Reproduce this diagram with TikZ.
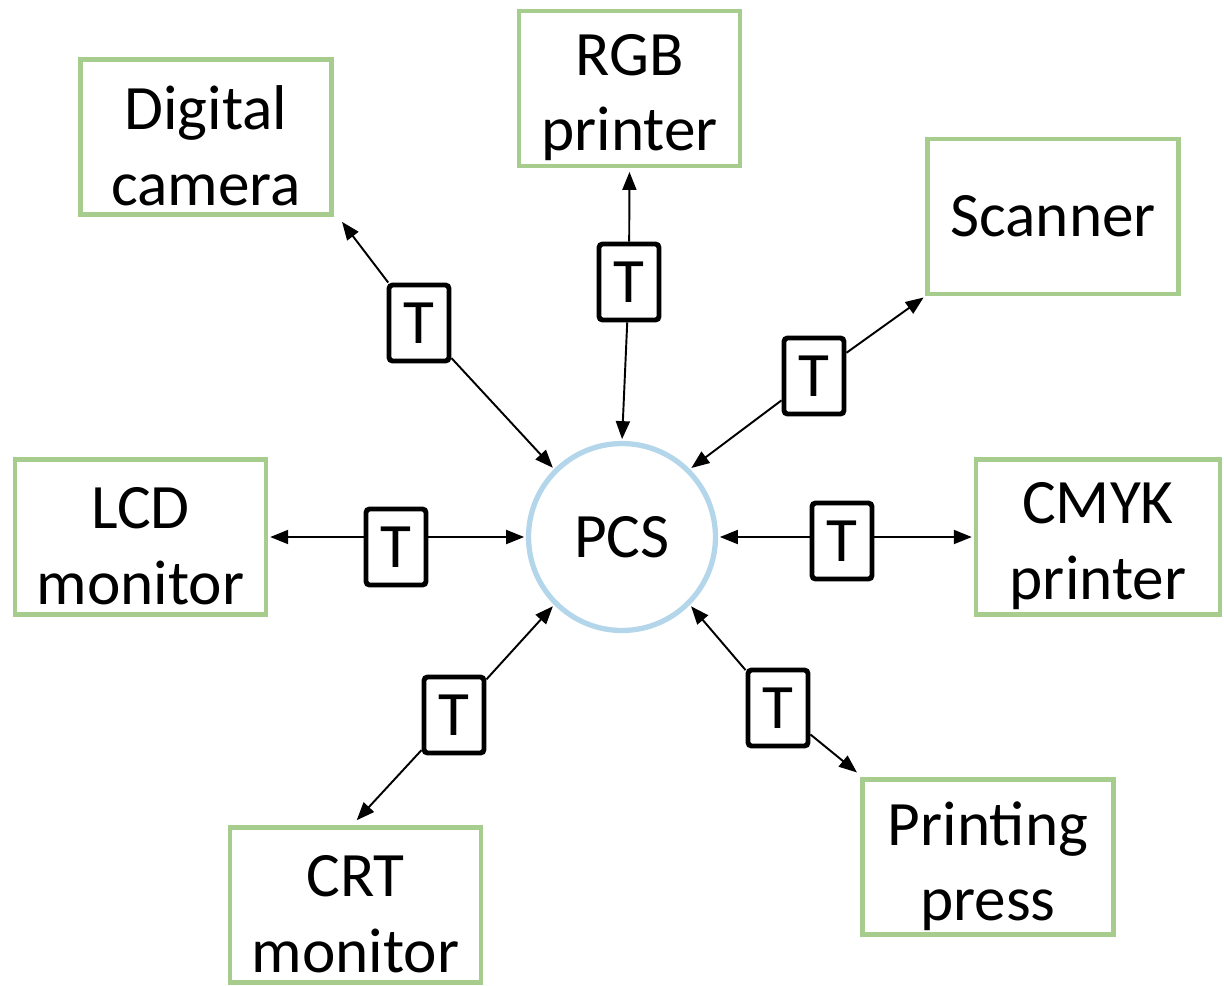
\documentclass[tikz,border=0pt]{standalone}
\usepackage{fontspec}
\setmainfont{Carlito}
\usetikzlibrary{arrows.meta}
\definecolor{boxgreen}{RGB}{166,205,142}
\definecolor{pcsblue}{RGB}{180,214,234}
\begin{document}
\begin{tikzpicture}[x=0.02cm,y=-0.02cm,
  bigfont/.style={font=\fontsize{36}{43}\selectfont},
  dev/.style={draw=boxgreen,line width=2.8pt,fill=white,minimum width=5.02cm,minimum height=3.1cm,align=center,inner sep=0pt,bigfont},
  devtext/.style={label={[bigfont,align=center,yshift=-0.18cm]center:{#1}}},
  tbox/.style={draw=black,line width=2.8pt,rounded corners=2pt,fill=white,minimum width=1.2cm,minimum height=1.52cm,inner sep=0pt,bigfont},
  pcsnode/.style={circle,draw=pcsblue,line width=3pt,fill=white,minimum size=3.74cm,inner sep=0pt,bigfont},
  conn/.style={line width=1.1pt,-{Triangle[length=0.36cm,width=0.28cm]},shorten >=1pt}
]
\useasboundingbox (0,0) rectangle (1224,985);
% devices
\node[dev,devtext={Digital\\camera}] (cam) at (206,137) {};
\node[dev,minimum width=4.42cm,devtext={RGB\\printer}] (rgb) at (629.5,88.5) {};
\node[dev] (scan) at (1053,216.5) {Scanner};
\node[dev,devtext={LCD\\monitor}] (lcd) at (140.5,537) {};
\node[dev,minimum width=4.88cm,devtext={CMYK\\printer}] (cmyk) at (1098,537) {};
\node[dev,devtext={CRT\\monitor}] (crt) at (355.5,905) {};
\node[dev,devtext={Printing\\press}] (press) at (988,857) {};
% PCS
\node[pcsnode] (pcs) at (622,537) {PCS};
% transforms
\node[tbox] (t1) at (419,323) {T};
\node[tbox] (t2) at (629,282) {T};
\node[tbox] (t3) at (814,376) {T};
\node[tbox] (t4) at (396,547) {T};
\node[tbox] (t5) at (842,541) {T};
\node[tbox] (t6) at (454,715) {T};
\node[tbox] (t7) at (778,708) {T};
% connectors
\draw[conn] (t1) -- ([shift={(4pt,-2pt)}]cam.south east);
\draw[conn] (t1) -- (pcs.135);
\draw[conn] (t2) -- ([yshift=-1pt]rgb.south);
\draw[conn] (t2) -- (pcs.90);
\draw[conn] (t3) -- (scan.south west);
\draw[conn] (t3) -- (pcs.45);
\draw[conn] (t4.west |- lcd.east) -- (lcd.east);
\draw[conn] (t4.east |- pcs.west) -- (pcs.west);
\draw[conn] (t5.east |- cmyk.west) -- (cmyk.west);
\draw[conn] (t5.west |- pcs.east) -- (pcs.east);
\draw[conn] (t6) -- ([yshift=2pt]crt.north);
\draw[conn] (t6) -- (pcs.225);
\draw[conn] (t7) -- ([shift={(-1pt,2pt)}]press.north west);
\draw[conn] (t7) -- (pcs.315);
\end{tikzpicture}
\end{document}
